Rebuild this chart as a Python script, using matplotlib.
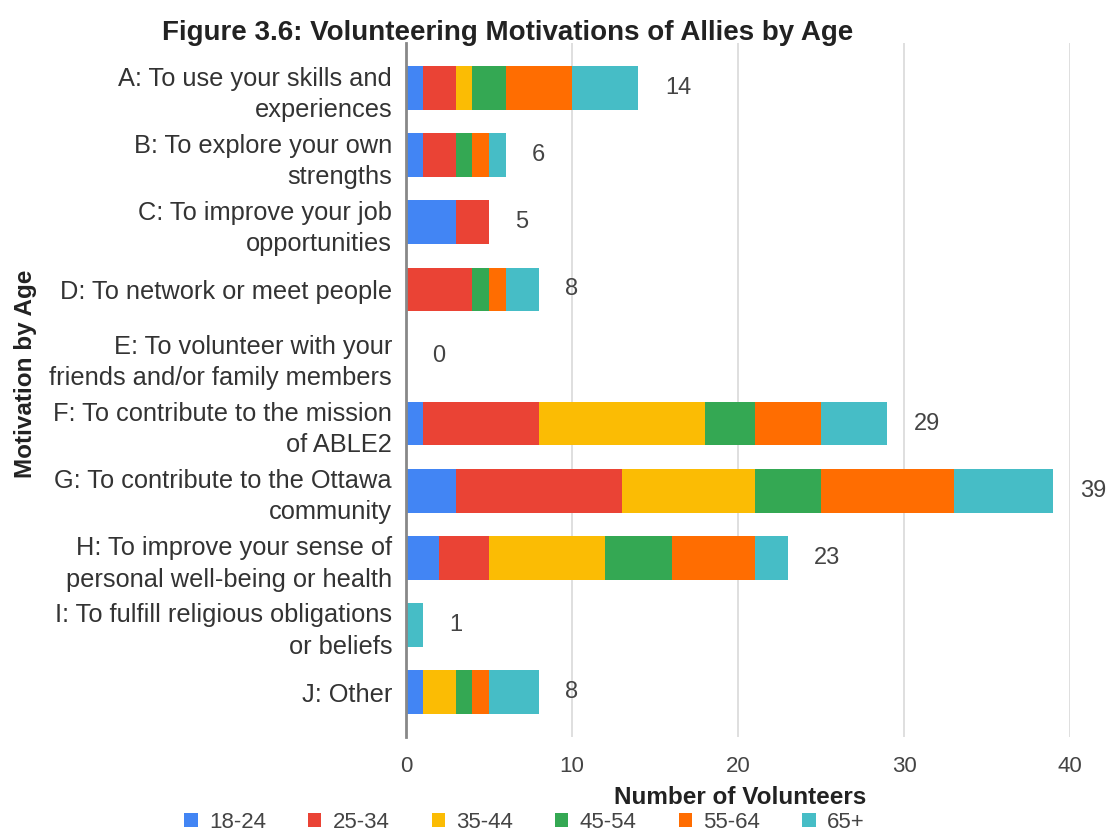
import numpy as np
import matplotlib.pyplot as plt

plt.rcParams['font.family'] = ['Liberation Sans', 'DejaVu Sans']

motivations = [
    'A: To use your skills and\nexperiences',
    'B: To explore your own\nstrengths',
    'C: To improve your job\nopportunities',
    'D: To network or meet people',
    'E: To volunteer with your\nfriends and/or family members',
    'F: To contribute to the mission\nof ABLE2',
    'G: To contribute to the Ottawa\ncommunity',
    'H: To improve your sense of\npersonal well-being or health',
    'I: To fulfill religious obligations\nor beliefs',
    'J: Other',
]
age_groups = ['18-24', '25-34', '35-44', '45-54', '55-64', '65+']
colors = ['#4285F4', '#EA4335', '#FBBC04', '#34A853', '#FF6D01', '#46BDC6']

# counts per motivation (A..J) for each age group
age_18_24 = [1, 1, 3, 0, 0, 1, 3, 2, 0, 1]
age_25_34 = [2, 2, 2, 4, 0, 7, 10, 3, 0, 0]
age_35_44 = [1, 0, 0, 0, 0, 10, 8, 7, 0, 2]
age_45_54 = [2, 1, 0, 1, 0, 3, 4, 4, 0, 1]
age_55_64 = [4, 1, 0, 1, 0, 4, 8, 5, 0, 1]
age_65_up = [4, 1, 0, 2, 0, 4, 6, 2, 1, 3]
series = [age_18_24, age_25_34, age_35_44, age_45_54, age_55_64, age_65_up]

fig = plt.figure(figsize=(11.11, 8.34), dpi=100)
ax = fig.add_axes([0.3654, 0.1163, 0.5977, 0.8321])

y = np.arange(len(motivations))
left = np.zeros(len(motivations))
for vals, name, col in zip(series, age_groups, colors):
    vals = np.array(vals)
    ax.barh(y, vals, left=left, height=0.65, color=col, label=name, zorder=3)
    left += vals

for i, tot in enumerate(left):
    ax.annotate(str(int(tot)), (tot, i), xytext=(19, 0), textcoords='offset points',
                va='center', ha='left', fontsize=17, color='#444444')

ax.set_xlim(0, 40)
ax.set_ylim(9.67, -0.67)
ax.set_xticks([0, 10, 20, 30, 40])
ax.set_yticks(y)
ax.set_yticklabels(motivations, fontsize=18.3, color='#333333', linespacing=1.38)
ax.tick_params(axis='y', length=0, pad=10)
ax.tick_params(axis='x', length=0, pad=14, labelsize=16, labelcolor='#444444')
ax.grid(axis='x', color='#d9d9d9', linewidth=1.2, zorder=0)
for s in ['top', 'right', 'bottom']:
    ax.spines[s].set_visible(False)
ax.spines['left'].set_color('#888888')
ax.spines['left'].set_linewidth(2)
ax.spines['left'].set_zorder(4)

fig.text(0.457, 0.960, 'Figure 3.6: Volunteering Motivations of Allies by Age',
         ha='center', va='center', fontsize=20, fontweight='bold', color='#222222')
fig.text(0.666, 0.044, 'Number of Volunteers', ha='center', va='center',
         fontsize=17.5, fontweight='bold', color='#222222')
fig.text(0.023, 0.552, 'Motivation by Age', rotation=90, ha='center', va='center',
         fontsize=17.5, fontweight='bold', color='#222222')

handles, labels = ax.get_legend_handles_labels()
fig.legend(handles, labels, loc='center', bbox_to_anchor=(0.472, 0.014), ncol=6,
           frameon=False, fontsize=16, handlelength=0.6, handleheight=0.6,
           handletextpad=0.5, columnspacing=1.9, labelcolor='#444444')

fig.savefig('out.png', dpi=100)
